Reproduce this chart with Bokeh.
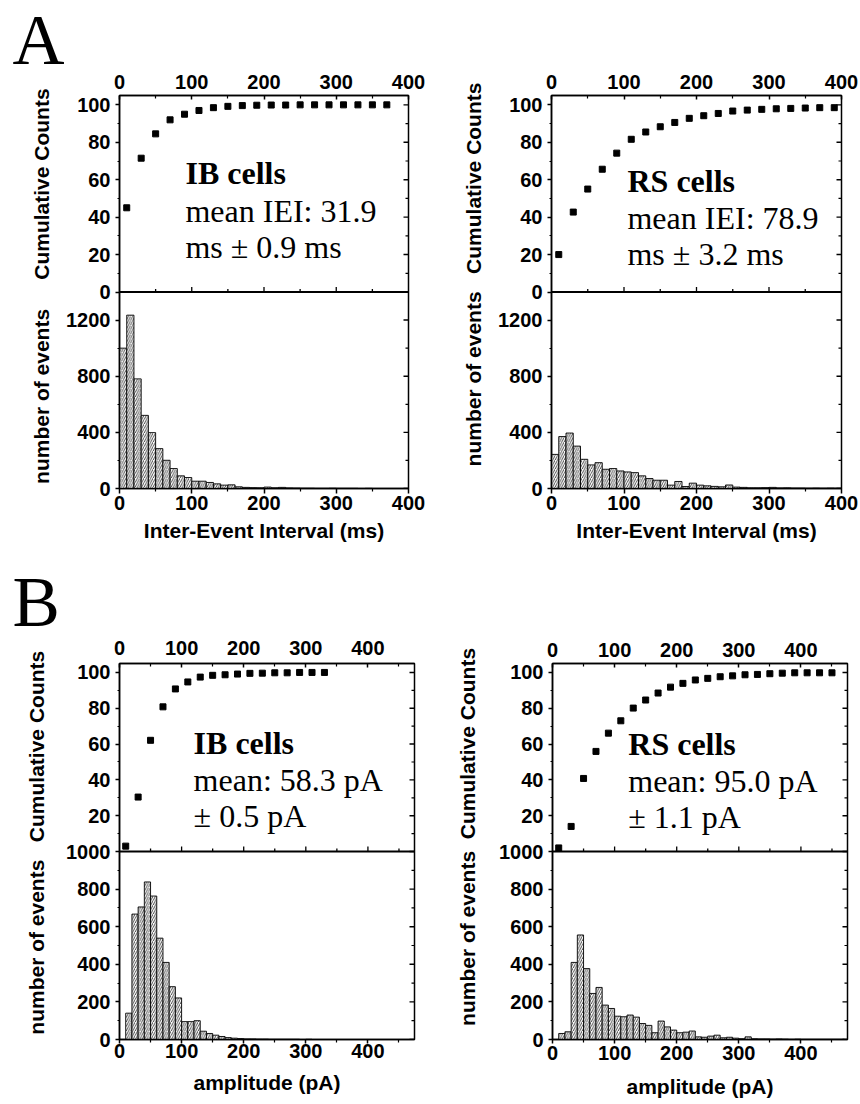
from bokeh.plotting import figure
from bokeh.models import Range1d, LinearAxis, FixedTicker, Label, Span, ColumnDataSource
from bokeh.layouts import row, column
from bokeh.embed import file_html
from bokeh.resources import INLINE

# ---------------- data ----------------
# Panel A: inter-event interval histograms (10 ms bins starting at 0 ms)
iei_bin_start = 0
iei_bin_width = 10
ib_iei_counts = [1000, 1235, 781, 521, 398, 284, 201, 142, 90, 78,
                 52, 52, 43, 33, 24, 26, 12, 8, 6, 5,
                 10, 5, 8, 4, 3, 2, 2, 1, 1, 2,
                 1, 1, 1, 0, 1, 0, 0, 0, 0, 0]
rs_iei_counts = [243, 370, 395, 302, 208, 168, 184, 137, 142, 125,
                 118, 113, 90, 71, 59, 59, 24, 50, 14, 38,
                 24, 19, 15, 12, 25, 10, 8, 5, 5, 6,
                 8, 4, 5, 3, 3, 2, 3, 2, 3, 2]
# Panel A: cumulative counts (%)
ib_iei_cum_x = [10, 30, 50, 70, 90, 110, 130, 150, 170, 190,
                210, 230, 250, 270, 290, 310, 330, 350, 370]
ib_iei_cum_y = [45, 71.5, 84.5, 92, 95, 97, 98.5, 99.2, 99.6, 99.8,
                99.9, 99.9, 100, 100, 100, 100, 100, 100, 100]
rs_iei_cum_x = [10, 30, 50, 70, 90, 110, 130, 150, 170, 190,
                210, 230, 250, 270, 290, 310, 330, 350, 370, 390]
rs_iei_cum_y = [20, 42.7, 55, 65.6, 74.2, 81.6, 85.5, 88.3, 90.6, 92.8,
                94.2, 95.4, 96.7, 97.2, 97.6, 97.9, 98.1, 98.3, 98.5, 98.5]

# Panel B: amplitude histograms (10 pA bins starting at 0 pA)
amp_bin_start = 0
amp_bin_width = 10
ib_amp_counts = [0, 140, 667, 705, 838, 763, 539, 410, 281, 221,
                 95, 95, 100, 44, 32, 23, 16, 10, 7, 5,
                 3, 3, 2, 2, 1, 1, 1, 1, 1, 0, 1, 0]
rs_amp_counts = [0, 32, 41, 410, 556, 377, 245, 277, 183, 165,
                 124, 121, 130, 119, 85, 75, 36, 98, 67, 50,
                 36, 39, 45, 14, 12, 18, 23, 9, 12, 7,
                 4, 14, 4, 3, 3, 2, 3, 2, 1, 2,
                 1, 1, 1, 1, 1, 1, 1]
ib_amp_cum_x = [10, 30, 50, 70, 90, 110, 130, 150, 170, 190,
                210, 230, 250, 270, 290, 310, 330]
ib_amp_cum_y = [3, 30.4, 62.1, 80.8, 90.8, 94.7, 97.4, 98.4, 98.7, 99.1,
                99.5, 99.6, 99.8, 99.8, 100, 100, 100]
rs_amp_cum_x = [10, 30, 50, 70, 90, 110, 130, 150, 170, 190,
                210, 230, 250, 270, 290, 310, 330, 350, 370, 390,
                410, 430, 450]
rs_amp_cum_y = [2, 14, 40.8, 55.9, 66.1, 73, 80.1, 84.6, 88.5, 91.8,
                93.9, 95.8, 96.7, 97.6, 98.1, 98.7, 98.9, 99.3, 99.6, 99.8,
                99.8, 99.8, 99.8]

# ticks / labels
x_major_ticks = [0, 100, 200, 300, 400]
x_minor_a = [50, 150, 250, 350]
x_minor_b = [50, 150, 250, 350, 450]
cum_major = [20, 40, 60, 80, 100]
cum_minor = [10, 30, 50, 70, 90]
iei_count_major = [0, 400, 800, 1200]
iei_count_minor = [200, 600, 1000]
amp_count_major = [0, 200, 400, 600, 800]
amp_count_minor = [100, 300, 500, 700, 900]

SANS = "Liberation Sans"
SERIF = "Liberation Serif"
CTOP = 105.0
NB = "\u00a0"


def make_panel(width, height, borders, xmax, x_minor, bin_start, bin_w, counts, H,
               count_major, count_minor, boundary_label, cum_x, cum_y,
               texts, text_x, text_ys, ytitle_pad, ytitle_standoff, xlabel,
               top_standoff, bot_tick_out, bot_label_standoff, bot_title_standoff):
    left, right, top, bottom = borders
    p = figure(width=width, height=height, output_backend="svg", toolbar_location=None,
               x_range=Range1d(0, xmax), y_range=Range1d(0, 2 * H),
               x_axis_type=None, y_axis_type=None,
               min_border_left=left, min_border_right=right,
               min_border_top=top, min_border_bottom=bottom,
               background_fill_color="white", border_fill_color="white")
    p.outline_line_color = "black"
    p.outline_line_width = 1.5
    p.extra_y_ranges = {"cum": Range1d(-CTOP, CTOP)}

    # histogram bars
    n = len(counts)
    lefts = [bin_start + i * bin_w for i in range(n)]
    rights = [l + bin_w for l in lefts]
    src = ColumnDataSource(dict(left=lefts, right=rights, top=counts))
    p.quad(left="left", right="right", bottom=0, top="top", source=src,
           fill_color="white", line_color="black", line_width=0.9,
           hatch_pattern="/", hatch_color="black", hatch_weight=0.7, hatch_scale=4.5)

    # cumulative squares
    p.scatter(cum_x, cum_y, marker="square", size=6, color="black", y_range_name="cum")

    # boundary line between the two sub-plots, with inward ticks
    p.add_layout(Span(location=H, dimension="width", line_color="black", line_width=2))
    inner_major = [t for t in x_major_ticks if 0 < t < xmax]
    p.ray(x=inner_major, y=[H] * len(inner_major), length=5, length_units="screen",
          angle=90, angle_units="deg", line_color="black", line_width=1.3)
    p.ray(x=x_minor, y=[H] * len(x_minor), length=3, length_units="screen",
          angle=90, angle_units="deg", line_color="black", line_width=1.3)

    # y tick positions (histogram counts below, cumulative % above the boundary)
    k = H / CTOP
    cum_pos = [H + c * k for c in cum_major]
    cum_min_pos = [H + c * k for c in cum_minor]
    major = list(count_major) + [H] + cum_pos
    minor = list(count_minor) + cum_min_pos
    overrides = {t: str(t) for t in count_major}
    overrides[H] = boundary_label
    for c, pos in zip(cum_major, cum_pos):
        overrides[pos] = str(c)

    # right-side inward ticks
    p.ray(x=[xmax] * len(major), y=major, length=5, length_units="screen",
          angle=180, angle_units="deg", line_color="black", line_width=1.4)
    p.ray(x=[xmax] * len(minor), y=minor, length=3, length_units="screen",
          angle=180, angle_units="deg", line_color="black", line_width=1.2)

    common = dict(axis_line_width=1.5, axis_line_color="black",
                  major_tick_line_width=1.5, minor_tick_line_width=1.2,
                  major_tick_line_color="black", minor_tick_line_color="black")
    lab = dict(major_label_text_font=SANS, major_label_text_font_size="20px",
               major_label_text_font_style="bold", major_label_text_color="black")
    ttl = dict(axis_label_text_font=SANS, axis_label_text_font_size="21px",
               axis_label_text_font_style="bold", axis_label_text_color="black")

    a_pad, g_pad, b_pad = ytitle_pad
    ytitle = NB * a_pad + "number of events" + NB * g_pad + "Cumulative Counts" + NB * b_pad
    yl = LinearAxis(ticker=FixedTicker(ticks=major, minor_ticks=minor),
                    major_label_overrides=overrides,
                    major_tick_out=4, major_tick_in=0, minor_tick_out=2, minor_tick_in=0,
                    major_label_standoff=5, axis_label=ytitle,
                    axis_label_standoff=ytitle_standoff, **common, **lab, **ttl)
    p.add_layout(yl, "left")

    xt = LinearAxis(ticker=FixedTicker(ticks=x_major_ticks, minor_ticks=x_minor),
                    major_tick_out=0, major_tick_in=4, minor_tick_out=0, minor_tick_in=3,
                    major_label_standoff=top_standoff, **common, **lab)
    p.add_layout(xt, "above")
    xb = LinearAxis(ticker=FixedTicker(ticks=x_major_ticks, minor_ticks=x_minor),
                    major_tick_out=bot_tick_out, major_tick_in=0, minor_tick_out=3, minor_tick_in=0,
                    major_label_standoff=bot_label_standoff,
                    axis_label=xlabel, axis_label_standoff=bot_title_standoff,
                    **common, **lab, **ttl)
    p.add_layout(xb, "below")

    # annotation texts
    for i, (txt, ty) in enumerate(zip(texts, text_ys)):
        p.add_layout(Label(x=text_x, y=ty, y_range_name="cum", text=txt, y_offset=11,
                           text_font=SERIF, text_font_size="32px",
                           text_font_style="bold" if i == 0 else "normal",
                           text_baseline="alphabetic", text_align="left", text_color="black"))
    return p


def letter_fig(letter, height, overlap, sx, sy, size, yoff):
    f = figure(width=438, height=height, output_backend="svg", toolbar_location=None,
               x_range=Range1d(0, 1), y_range=Range1d(0, 1),
               x_axis_type=None, y_axis_type=None, min_border=0,
               background_fill_color=None, border_fill_color=None,
               margin=(0, 0, -overlap, 0))
    f.outline_line_color = None
    f.add_layout(Label(x=sx, y=sy, x_units="screen", y_units="screen", text=letter,
                       y_offset=yoff, text_font=SERIF, text_font_size=size,
                       text_baseline="alphabetic", text_align="left", text_color="black"))
    return f


letA = letter_fig("A", 80, 16, 12, 15.8, "72px", 24.3)
pA1 = make_panel(438, 496, (119, 30, 31, 72), 400, x_minor_a, iei_bin_start, iei_bin_width,
                 ib_iei_counts, 1400, iei_count_major, iei_count_minor, "0",
                 ib_iei_cum_x, ib_iei_cum_y,
                 ["IB cells", "mean IEI: 31.9", "ms \u00b1 0.9 ms"], 91.3, [57.5, 37.2, 18.4],
                 (2, 5, 0), 10, "Inter-Event Interval (ms)",
                 7, 5, 2, 6)
pA2 = make_panel(422, 496, (113, 19, 31, 72), 400, x_minor_a, iei_bin_start, iei_bin_width,
                 rs_iei_counts, 1400, iei_count_major, iei_count_minor, "0",
                 rs_iei_cum_x, rs_iei_cum_y,
                 ["RS cells", "mean IEI: 78.9", "ms \u00b1 3.2 ms"], 104.8, [53.4, 33.7, 14.2],
                 (6, 3, 0), 10, "Inter-Event Interval (ms)",
                 7, 5, 2, 6)
letB = letter_fig("B", 82, 16, 12, 17, "71px", 24)
pB1 = make_panel(438, 477, (119, 24, 36, 60), 475, x_minor_b, amp_bin_start, amp_bin_width,
                 ib_amp_counts, 1000, amp_count_major, amp_count_minor, "1000",
                 ib_amp_cum_x, ib_amp_cum_y,
                 ["IB cells", "mean: 58.3 pA", "\u00b1 0.5 pA"], 119.3, [54.2, 33.7, 13.6],
                 (3, 3, 0), 15, "amplitude (pA)",
                 9, 4, 0, 10)
pB2 = make_panel(422, 477, (114, 13, 37, 64), 475, x_minor_b, amp_bin_start, amp_bin_width,
                 rs_amp_counts, 1000, amp_count_major, amp_count_minor, "1000",
                 rs_amp_cum_x, rs_amp_cum_y,
                 ["RS cells", "mean: 95.0 pA", "\u00b1 1.1 pA"], 122, [54.1, 33.3, 13.0],
                 (5, 2, 0), 17, "amplitude (pA)",
                 7, 4, 2, 12)

layout = column(letA, row(pA1, pA2), letB, row(pB1, pB2))
open("out.html", "w").write(file_html(layout, INLINE))
